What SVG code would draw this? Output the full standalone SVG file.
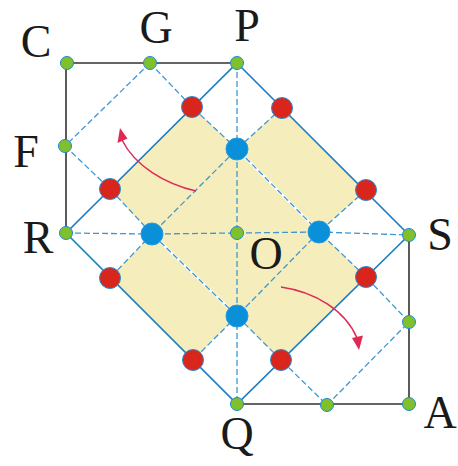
<svg xmlns="http://www.w3.org/2000/svg" width="458" height="466" viewBox="0 0 458 466">
<defs>
<style>
.lbl{font-family:"Liberation Serif","Times New Roman",serif;font-size:46px;fill:#1a1a1a;text-anchor:middle}
.blk{stroke:#333;stroke-width:1.6;fill:none}
.edge{stroke:#1a7ec4;stroke-width:1.6;fill:none}
.dash{stroke:#3d97d3;stroke-width:1.3;stroke-dasharray:6 3;fill:none}
.wht{stroke:#fff;stroke-width:2.6;fill:none}
.arr{stroke:#de2a55;stroke-width:1.5;fill:none}
.g{fill:#80c02a;stroke:#1b8ad3;stroke-width:1}
.r{fill:#d9261c;stroke:#2a8ad0;stroke-width:1}
.b{fill:#0a8fd9;stroke:#2a9ae0;stroke-width:1}
</style>
</defs>
<rect width="458" height="466" fill="#fff"/>
<polygon points="192,107 237,149 282,108 366,190 319,232 366,277 281,360 237,316 193,360 110,278 152,234 110,189" fill="#f5edbc"/>
<g id="connectors">
<polyline class="blk" points="237,63 66,63 66,233"/>
<polyline class="blk" points="237,404 409,404 409,235"/>
<polygon class="edge" points="237,63 409,235 237,404 66,233"/>
<line class="wht" x1="237" y1="149" x2="319" y2="232"/>
<line class="wht" x1="152" y1="234" x2="237" y2="316"/>
<polyline class="dash" points="150,63 192,107 237,149 319,232 366,277 409,322"/>
<polyline class="dash" points="65,146 110,189 152,234 237,316 281,360 327,405"/>
<polyline class="dash" points="282,108 237,149 152,234 110,278"/>
<polyline class="dash" points="366,190 319,232 237,316 193,360"/>
<polyline class="dash" points="237,63 237,149 237,233 237,316 237,404"/>
<polyline class="dash" points="66,233 152,234 237,233 319,232 409,235"/>
<line class="dash" x1="150" y1="63" x2="65" y2="146"/>
<line class="dash" x1="327" y1="405" x2="409" y2="322"/>
<path class="arr" d="M196,191 C165,184 135,166 122,140"/>
<polygon points="120,128 117.5,143 127.5,138.5" fill="#de2a55"/>
<path class="arr" d="M281,287 C315,292 345,310 357,338"/>
<polygon points="359,350 352,338 363,335.5" fill="#de2a55"/>
</g>
<g id="green-dots">
<circle id="C" class="g" cx="67" cy="63" r="6.5"/>
<circle id="G" class="g" cx="150" cy="63" r="6.5"/>
<circle id="P" class="g" cx="237" cy="63" r="6.5"/>
<circle id="F" class="g" cx="65" cy="146" r="6.5"/>
<circle id="R" class="g" cx="66" cy="233" r="6.5"/>
<circle id="O" class="g" cx="237" cy="233" r="6.5"/>
<circle id="S" class="g" cx="409" cy="235" r="6.5"/>
<circle id="SA" class="g" cx="409" cy="322" r="6.5"/>
<circle id="A" class="g" cx="409" cy="404" r="6.5"/>
<circle id="QA" class="g" cx="327" cy="405" r="6.5"/>
<circle id="Q" class="g" cx="237" cy="404" r="6.5"/>
</g>
<g id="red-dots">
<circle class="r" cx="192" cy="107" r="10.5"/>
<circle class="r" cx="282" cy="108" r="10.5"/>
<circle class="r" cx="366" cy="190" r="10.5"/>
<circle class="r" cx="366" cy="277" r="10.5"/>
<circle class="r" cx="281" cy="360" r="10.5"/>
<circle class="r" cx="193" cy="360" r="10.5"/>
<circle class="r" cx="110" cy="278" r="10.5"/>
<circle class="r" cx="110" cy="189" r="10.5"/>
</g>
<g id="blue-dots">
<circle class="b" cx="237" cy="149" r="11"/>
<circle class="b" cx="319" cy="232" r="11"/>
<circle class="b" cx="237" cy="316" r="11"/>
<circle class="b" cx="152" cy="234" r="11"/>
</g>
<g id="labels">
<text class="lbl" x="36" y="57">C</text>
<text class="lbl" x="156" y="43">G</text>
<text class="lbl" x="247" y="41">P</text>
<text class="lbl" x="26" y="167">F</text>
<text class="lbl" x="38" y="253">R</text>
<text class="lbl" x="440" y="250">S</text>
<text class="lbl" x="440" y="428">A</text>
<text class="lbl" x="237" y="449">Q</text>
<text class="lbl" x="266" y="269">O</text>
</g>
</svg>
